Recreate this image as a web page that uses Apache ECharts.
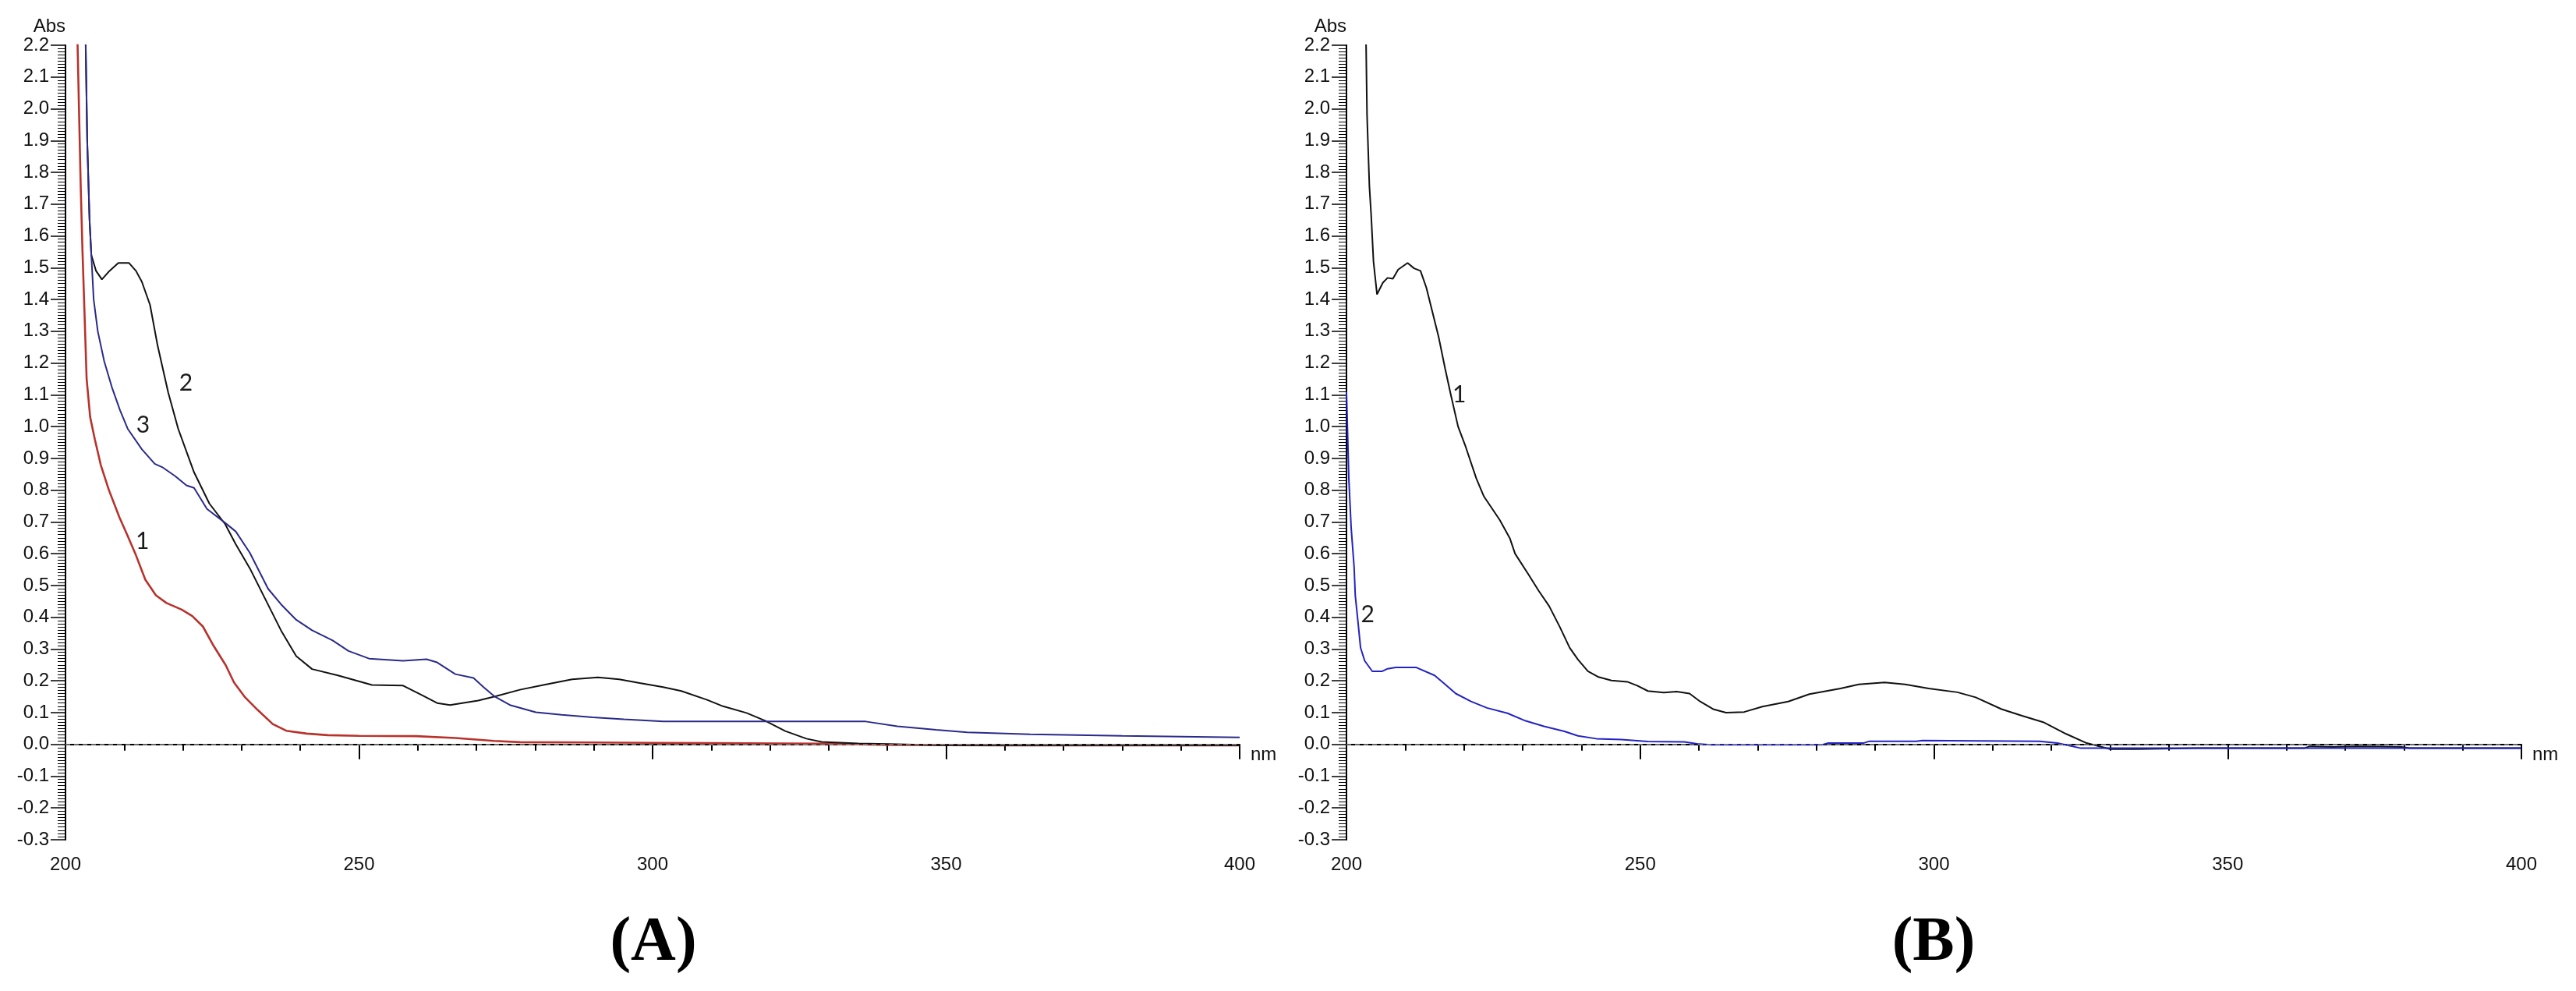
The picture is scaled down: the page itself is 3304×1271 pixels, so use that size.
<!DOCTYPE html>
<html>
<head>
<meta charset="utf-8">
<title>UV spectra</title>
<script src="https://cdn.jsdelivr.net/npm/echarts@6/dist/echarts.min.js"></script>
<style>
  html, body { margin: 0; padding: 0; background: #fff; }
  #main { width: 3304px; height: 1271px; }
</style>
</head>
<body>
<div id="main"></div>
<script>
// wavelength axis ticks (nm) and absorbance ticks
const xTicks = [200, 250, 300, 350, 400]
const yRange = [-0.3, 2.2]

// panel A, curve 1 (red)
const a1X = [202.0, 202.3, 202.6, 202.9, 203.2, 203.6, 204.2, 205.0, 206.0, 207.4, 209.2, 210.5, 211.9, 213.6, 215.4, 217.2, 219.8, 221.6, 223.4, 225.1, 227.3, 228.7, 230.5, 232.7, 235.3, 237.6, 241.1, 244.7, 250, 259.7, 266.4, 273, 277.4, 290, 300, 310, 322, 330, 340, 360, 380, 400]
const a1Y = [2.25, 2.0, 1.75, 1.55, 1.38, 1.15, 1.03, 0.96, 0.88, 0.8, 0.714, 0.66, 0.6, 0.518, 0.469, 0.445, 0.424, 0.404, 0.371, 0.314, 0.249, 0.195, 0.15, 0.109, 0.064, 0.043, 0.034, 0.029, 0.027, 0.026, 0.02, 0.011, 0.007, 0.006, 0.005, 0.004, 0.003, 0.002, -0.002, -0.003, -0.003, -0.003]

// panel A, curve 2 (black)
const a2X = [203.4, 203.7, 204.1, 204.4, 205.2, 206.2, 207.5, 209.0, 210.8, 212.0, 213.0, 214.4, 215.7, 217.5, 219.2, 221.9, 224.5, 227.2, 229.0, 231.4, 234.5, 236.7, 239.3, 242, 246.4, 252.2, 257.5, 260.6, 263.3, 265.5, 270.3, 273.4, 277.4, 281.9, 286.3, 290.7, 294.3, 297.8, 301.8, 304.9, 309.3, 312, 316, 319.1, 322.6, 326.2, 328.8, 335, 340.3, 350, 360, 380, 400]
const a2Y = [2.25, 1.9, 1.65, 1.54, 1.49, 1.463, 1.49, 1.515, 1.515, 1.49, 1.456, 1.383, 1.254, 1.107, 0.993, 0.856, 0.758, 0.693, 0.63, 0.554, 0.44, 0.359, 0.278, 0.237, 0.217, 0.187, 0.185, 0.156, 0.13, 0.124, 0.138, 0.152, 0.172, 0.189, 0.205, 0.211, 0.205, 0.193, 0.18, 0.168, 0.14, 0.12, 0.099, 0.075, 0.042, 0.018, 0.008, 0.003, 0.001, -0.003, -0.003, -0.003, -0.003]

// panel A, curve 3 (blue)
const a3X = [203.4, 203.7, 204.1, 204.4, 204.8, 205.5, 206.6, 207.9, 209.3, 210.6, 213.0, 215.2, 216.6, 218.7, 220.6, 221.9, 224.1, 227.2, 229.0, 231.4, 234.5, 236.7, 239.3, 242, 245.5, 248.2, 251.7, 257.5, 261.5, 263.3, 266.4, 269.5, 271.2, 273, 275.7, 280.1, 284.5, 289.8, 295.1, 301.8, 320, 336.3, 341.7, 348.3, 353.6, 364.3, 380, 400]
const a3Y = [2.25, 1.9, 1.65, 1.54, 1.40, 1.30, 1.205, 1.124, 1.051, 0.993, 0.929, 0.883, 0.871, 0.844, 0.815, 0.807, 0.741, 0.697, 0.67, 0.603, 0.49, 0.441, 0.392, 0.359, 0.327, 0.294, 0.27, 0.263, 0.268, 0.258, 0.221, 0.209, 0.18, 0.152, 0.124, 0.101, 0.093, 0.085, 0.079, 0.072, 0.072, 0.072, 0.057, 0.046, 0.038, 0.032, 0.027, 0.022]

// panel B, curve 1 (black)
const b1X = [203.3, 203.5, 203.9, 204.2, 204.6, 205.2, 206.2, 207.0, 207.9, 208.8, 210.4, 211.5, 212.6, 213.6, 214.6, 215.7, 216.8, 217.7, 219, 220.3, 222.1, 223.4, 226.1, 227.8, 228.7, 231, 232.7, 234.5, 236.3, 238, 239.4, 241.1, 242.9, 245.1, 247.8, 249.5, 251.3, 254, 256.2, 258.4, 260.2, 262.4, 264.6, 267.7, 270.8, 275.2, 278.8, 284.1, 287.2, 291.6, 295.1, 299.1, 304, 307.1, 311.5, 315, 318.6, 322.5, 326, 328.3, 330, 334.5, 345, 363, 364, 368, 372, 376, 379.6, 381, 400]
const b1Y = [2.25, 1.98, 1.757, 1.667, 1.519, 1.416, 1.453, 1.468, 1.465, 1.494, 1.515, 1.498, 1.49, 1.437, 1.363, 1.281, 1.182, 1.105, 1.0, 0.936, 0.837, 0.78, 0.706, 0.649, 0.6, 0.534, 0.484, 0.435, 0.37, 0.304, 0.267, 0.23, 0.212, 0.201, 0.197, 0.185, 0.168, 0.163, 0.166, 0.16, 0.135, 0.111, 0.1, 0.102, 0.119, 0.135, 0.158, 0.176, 0.189, 0.195, 0.189, 0.176, 0.164, 0.148, 0.111, 0.09, 0.07, 0.033, 0.004, -0.007, -0.015, -0.015, -0.012, -0.012, -0.006, -0.008, -0.006, -0.007, -0.008, -0.012, -0.012]

// panel B, curve 2 (blue)
const b2X = [200.0, 200.4, 200.8, 201.3, 201.5, 202.0, 202.4, 203.1, 204.4, 206.1, 207.0, 208.4, 211.9, 215, 216.8, 218.6, 221.2, 223.9, 227.4, 230.5, 233.6, 237.1, 239.4, 242.5, 246.8, 251.3, 257.5, 259.7, 262, 281, 282, 288, 289, 297, 298, 318, 321, 323, 325, 400]
const b2Y = [1.109, 0.837, 0.681, 0.558, 0.468, 0.378, 0.304, 0.263, 0.23, 0.23, 0.238, 0.242, 0.242, 0.217, 0.189, 0.16, 0.135, 0.115, 0.098, 0.074, 0.057, 0.041, 0.027, 0.018, 0.015, 0.009, 0.008, 0.002, -0.001, -0.001, 0.004, 0.004, 0.01, 0.01, 0.012, 0.01, 0.004, -0.004, -0.012, -0.012]

// curve number tags, [nm, Abs]
const tagsA = [['1', 213.1, 0.64], ['2', 220.5, 1.136], ['3', 213.2, 1.005]]
const tagsB = [['1', 219.2, 1.099], ['2', 203.6, 0.408]]

const zip = (xs, ys) => xs.map((x, i) => [x, ys[i]])

const axisFont = 'Liberation Sans, Arial, sans-serif'

function xAxisFor(gridIndex) {
  return {
    type: 'value',
    gridIndex: gridIndex,
    min: xTicks[0],
    max: xTicks[xTicks.length - 1],
    interval: 50,
    name: 'nm',
    nameLocation: 'end',
    nameGap: 14,
    nameTextStyle: { fontFamily: axisFont, fontSize: 24, color: '#111', verticalAlign: 'top', padding: [2, 0, 0, 0] },
    axisLine: { lineStyle: { color: '#000', width: 2 } },
    axisTick: { length: 19, lineStyle: { color: '#000', width: 2 } },
    minorTick: { show: true, splitNumber: 5, length: 8, lineStyle: { color: '#000', width: 2 } },
    axisLabel: { fontFamily: axisFont, fontSize: 24, color: '#111', margin: 20 },
    splitLine: { show: false }
  }
}

function yAxisFor(gridIndex) {
  return {
    type: 'value',
    gridIndex: gridIndex,
    min: yRange[0],
    max: yRange[1],
    interval: 0.1,
    name: 'Abs',
    nameLocation: 'end',
    nameGap: 8,
    nameTextStyle: { fontFamily: axisFont, fontSize: 24, color: '#111', align: 'right' },
    axisLine: { onZero: false, lineStyle: { color: '#000', width: 2 } },
    axisTick: { length: 19, lineStyle: { color: '#000', width: 1.5 } },
    minorTick: { show: true, splitNumber: 10, length: 10, lineStyle: { color: '#000', width: 1 } },
    axisLabel: { fontFamily: axisFont, fontSize: 24, color: '#111', margin: 21, formatter: v => v.toFixed(1) },
    splitLine: { show: false }
  }
}

function curve(gridIndex, xs, ys, color, width, extra) {
  return Object.assign({
    type: 'line',
    xAxisIndex: gridIndex,
    yAxisIndex: gridIndex,
    data: zip(xs, ys),
    showSymbol: false,
    lineStyle: { color: color, width: width },
    itemStyle: { color: color },
    clip: true,
    silent: true
  }, extra || {})
}

function zeroLine() {
  return {
    silent: true,
    symbol: 'none',
    label: { show: false },
    lineStyle: { type: [6, 5], color: '#8a8a8a', width: 1.5 },
    data: [{ yAxis: 0 }]
  }
}

function tags(list) {
  return {
    symbol: 'circle',
    symbolSize: 0,
    silent: true,
    label: { show: true, position: 'inside', fontFamily: 'Lato, Open Sans, sans-serif', fontSize: 30, color: '#1a1a1a', formatter: p => p.name },
    data: list.map(t => ({ name: t[0], coord: [t[1], t[2]] }))
  }
}

const myChart = echarts.init(document.getElementById('main'), null, { renderer: 'canvas' })

const option = {
  animation: false,
  backgroundColor: '#fff',
  grid: [
    { left: 84, top: 58, width: 1506, height: 1019 },
    { left: 1727, top: 58, width: 1507, height: 1019 }
  ],
  xAxis: [xAxisFor(0), xAxisFor(1)],
  yAxis: [yAxisFor(0), yAxisFor(1)],
  series: [
    // red drawn wider underneath, black on top: the shared tail reads dark maroon as in the scan
    curve(0, a1X, a1Y, '#b8322c', 2.6, { markLine: zeroLine() }),
    curve(0, a2X, a2Y, '#111', 2, { markPoint: tags(tagsA) }),
    curve(0, a3X, a3Y, '#2a2a8a', 2),
    curve(1, b1X, b1Y, '#111', 2, { markLine: zeroLine(), markPoint: tags(tagsB) }),
    curve(1, b2X, b2Y, '#2323c4', 2)
  ],
  graphic: [
    { type: 'text', x: 838, y: 1210, style: { text: '(A)', font: 'bold 80px "Liberation Serif", "Times New Roman", serif', fill: '#000', textAlign: 'center', textVerticalAlign: 'middle' } },
    { type: 'text', x: 2480, y: 1210, style: { text: '(B)', font: 'bold 80px "Liberation Serif", "Times New Roman", serif', fill: '#000', textAlign: 'center', textVerticalAlign: 'middle' } }
  ]
}

myChart.setOption(option)

window.addEventListener('resize', () => {
  myChart.resize()
})
</script>
</body>
</html>
